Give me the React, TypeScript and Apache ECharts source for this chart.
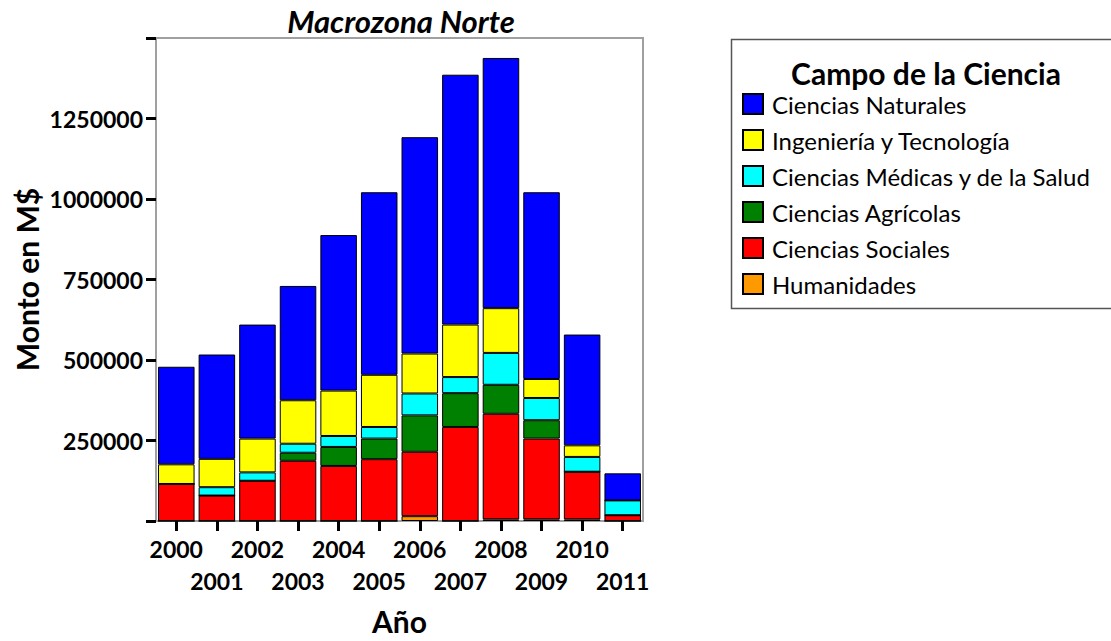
import React, { useEffect, useRef } from "react";
import * as echarts from "echarts";

const years = ["2000", "2001", "2002", "2003", "2004", "2005", "2006", "2007", "2008", "2009", "2010", "2011"];
const humanidades = [0, 0, 0, 0, 0, 0, 15000, 0, 5000, 5000, 5000, 0];
const sociales = [115000, 79000, 125000, 187000, 171000, 192000, 200000, 292000, 328000, 251000, 148000, 18000];
const agricolas = [0, 0, 0, 25000, 59000, 64000, 113000, 105000, 90000, 57000, 0, 0];
const medicas = [0, 26000, 26000, 28000, 34000, 36000, 68000, 50000, 99000, 69000, 46000, 46000];
const ingenieria = [61000, 88000, 105000, 135000, 141000, 162000, 124000, 163000, 139000, 59000, 36000, 0];
const naturales = [303000, 324000, 354000, 355000, 483000, 567000, 672000, 776000, 777000, 580000, 344000, 84000];

const seriesDefs = [
  { name: "Humanidades", data: humanidades, color: "#ff9900" },
  { name: "Ciencias Sociales", data: sociales, color: "#ff0000" },
  { name: "Ciencias Agrícolas", data: agricolas, color: "#008000" },
  { name: "Ciencias Médicas y de la Salud", data: medicas, color: "#00ffff" },
  { name: "Ingeniería y Tecnología", data: ingenieria, color: "#ffff00" },
  { name: "Ciencias Naturales", data: naturales, color: "#0000ff" },
];

const FONT = "Lato, 'Open Sans', sans-serif";

export default function App() {
  const ref = useRef<HTMLDivElement>(null);
  useEffect(() => {
    document.body.style.margin = "0";
    const chart = echarts.init(ref.current!, null, { renderer: "svg" });
    chart.setOption({
      animation: false,
      backgroundColor: "#ffffff",
      textStyle: { fontFamily: FONT },
      title: {
        text: "Macrozona Norte",
        left: 401,
        textAlign: "center",
        top: 5,
        padding: 0,
        textStyle: { fontFamily: FONT, fontSize: 31, fontWeight: "bold", fontStyle: "italic", color: "#000" },
      },
      grid: {
        left: 156,
        right: 468,
        top: 38,
        bottom: 111,
        show: true,
        borderColor: "#a0a0a0",
        borderWidth: 2,
        backgroundColor: "transparent",
      },
      legend: {
        orient: "vertical",
        left: 742,
        top: 92,
        padding: 0,
        itemWidth: 20,
        itemHeight: 20,
        itemGap: 12,
        icon: "rect",
        data: seriesDefs.map((s) => s.name).reverse(),
        textStyle: { fontFamily: FONT, fontSize: 24, color: "#000", padding: [0, 0, 0, 4] },
      },
      graphic: [
        {
          type: "rect",
          shape: { x: 731.5, y: 39.5, width: 400, height: 269 },
          style: { fill: "none", stroke: "#555555", lineWidth: 1.5 },
          silent: true,
        },
        {
          type: "text",
          x: 926,
          y: 73,
          style: {
            text: "Campo de la Ciencia",
            fontFamily: FONT,
            fontSize: 30,
            fontWeight: "bold",
            fill: "#000",
            textAlign: "center",
            textVerticalAlign: "middle",
          },
        },
      ],
      xAxis: {
        type: "category",
        data: years,
        name: "Año",
        nameLocation: "middle",
        nameGap: 85,
        nameTextStyle: { fontFamily: FONT, fontSize: 30, fontWeight: "bold", color: "#000" },
        axisLine: { show: false },
        axisTick: { show: true, alignWithLabel: true, length: 10, lineStyle: { color: "#000", width: 3 } },
        axisLabel: {
          interval: 0,
          margin: 12,
          fontFamily: FONT,
          fontSize: 23,
          fontWeight: "bold",
          color: "#000",
          lineHeight: 32,
          formatter: (v: string, i: number) => (i % 2 === 1 ? "\n" + v : v),
        },
      },
      yAxis: {
        type: "value",
        min: 0,
        max: 1500000,
        interval: 250000,
        name: "Monto en M$",
        nameLocation: "middle",
        nameGap: 114,
        nameTextStyle: { fontFamily: FONT, fontSize: 30, fontWeight: "bold", color: "#000" },
        axisLine: { show: false },
        splitLine: { show: false },
        axisTick: { show: true, length: 10, lineStyle: { color: "#000", width: 3 } },
        axisLabel: {
          margin: 13,
          fontFamily: FONT,
          fontSize: 23,
          fontWeight: "bold",
          color: "#000",
          formatter: (v: number) => (v === 0 || v === 1500000 ? "" : String(v)),
        },
      },
      series: seriesDefs.map((s) => ({
        type: "bar",
        name: s.name,
        stack: "total",
        data: s.data,
        barCategoryGap: "10%",
        itemStyle: { color: s.color, borderColor: "#000", borderWidth: 1 },
        emphasis: { disabled: true },
      })),
    });
    return () => chart.dispose();
  }, []);
  return <div ref={ref} style={{ width: 1111, height: 641 }} />;
}
